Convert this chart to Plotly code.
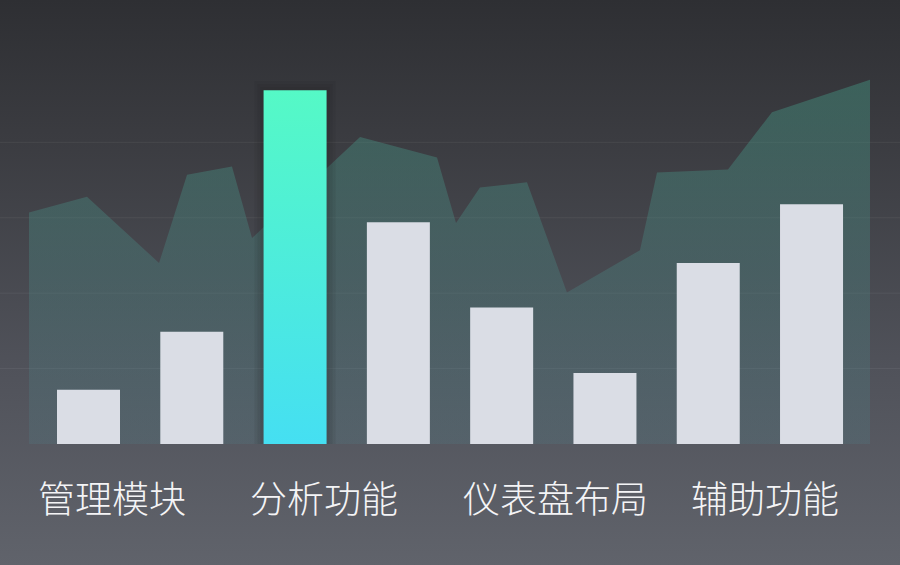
import plotly.graph_objects as go

# ---- data ----
bar_values = [72, 149, 469, 294, 181, 94, 240, 318]
highlight_index = 2
# area outline, x in category-index units, y in value units
area_x = [-0.576, -0.015, 0.683, 0.954, 1.389, 1.583, 2.629, 3.374, 3.558, 3.79,
          4.245, 4.632, 5.339, 5.504, 6.191, 6.617, 7.566]
area_y = [307, 328, 240, 357, 368, 273, 407, 380, 293, 340, 347, 201, 257, 360, 364, 440, 483]
labels = ["管理模块", "分析功能", "仪表盘布局", "辅助功能"]
grid_values = [100, 200, 300, 400]

# ---- geometry / style ----
W, H = 900, 565
X0, X1 = -0.8568, 7.8565
Y0, Y1 = -160.5, 588.8
BAR_W = 0.61
PX_X = (X1 - X0) / W
PX_Y = (Y1 - Y0) / H

fig = go.Figure()

# background gradient
fig.add_trace(go.Scatter(
    x=[X0, X1, X1, X0, X0], y=[Y0, Y0, Y1, Y1, Y0],
    mode="none", fill="toself",
    fillgradient=dict(type="vertical",
                      colorscale=[[0, "#60636b"], [0.35, "#50525a"], [0.75, "#3b3c41"], [1, "#2e2f33"]]),
    hoverinfo="skip", showlegend=False))

# gridlines
for g in grid_values:
    fig.add_trace(go.Scatter(x=[X0, X1], y=[g, g], mode="lines",
                             line=dict(color="rgba(255,255,255,0.06)", width=1),
                             hoverinfo="skip", showlegend=False))

# area
fig.add_trace(go.Scatter(
    x=area_x, y=area_y, mode="none", fill="tozeroy",
    fillgradient=dict(type="vertical", start=0, stop=max(area_y),
                      colorscale=[[0, "rgba(80,130,140,0.22)"], [1, "rgba(68,150,130,0.45)"]]),
    hoverinfo="skip", showlegend=False))

def rect(i, v, pad_px=0):
    dx, dy = pad_px * PX_X, pad_px * PX_Y
    xl, xr = i - BAR_W / 2 - dx, i + BAR_W / 2 + dx
    return [xl, xr, xr, xl, xl], [0, 0, v + dy, v + dy, 0]

# plain bars
for i, v in enumerate(bar_values):
    if i == highlight_index:
        continue
    xs, ys = rect(i, v)
    fig.add_trace(go.Scatter(x=xs, y=ys, mode="none", fill="toself", fillcolor="#dadde5",
                             hoverinfo="skip", showlegend=False))

# highlighted bar shadow + gradient
hv = bar_values[highlight_index]
for k in (9, 6, 3):
    xs, ys = rect(highlight_index, hv, k)
    fig.add_trace(go.Scatter(x=xs, y=ys, mode="none", fill="toself", fillcolor="rgba(20,20,25,0.08)",
                             hoverinfo="skip", showlegend=False))
xs, ys = rect(highlight_index, hv)
fig.add_trace(go.Scatter(
    x=xs, y=ys, mode="none", fill="toself",
    fillgradient=dict(type="vertical", colorscale=[[0, "#45dff2"], [1, "#55f9c6"]]),
    hoverinfo="skip", showlegend=False))

# category labels
label_px = [112, 324, 555, 765]
for lab, px in zip(labels, label_px):
    fig.add_annotation(text=lab, x=px / W, y=1 - 497 / H, xref="paper", yref="paper",
                       xanchor="center", yanchor="middle", showarrow=False,
                       font=dict(family="Noto Sans CJK SC", size=37, color="#f4f4f6", weight=300))

fig.update_layout(
    width=W, height=H, margin=dict(l=0, r=0, t=0, b=0),
    paper_bgcolor="#2e2f33", plot_bgcolor="rgba(0,0,0,0)",
    xaxis=dict(range=[X0, X1], visible=False, fixedrange=True),
    yaxis=dict(range=[Y0, Y1], visible=False, fixedrange=True),
    showlegend=False,
)

fig.write_html("out.html", config={"displayModeBar": False},
               post_script="document.body.style.margin='0';document.body.style.overflow='hidden';")
